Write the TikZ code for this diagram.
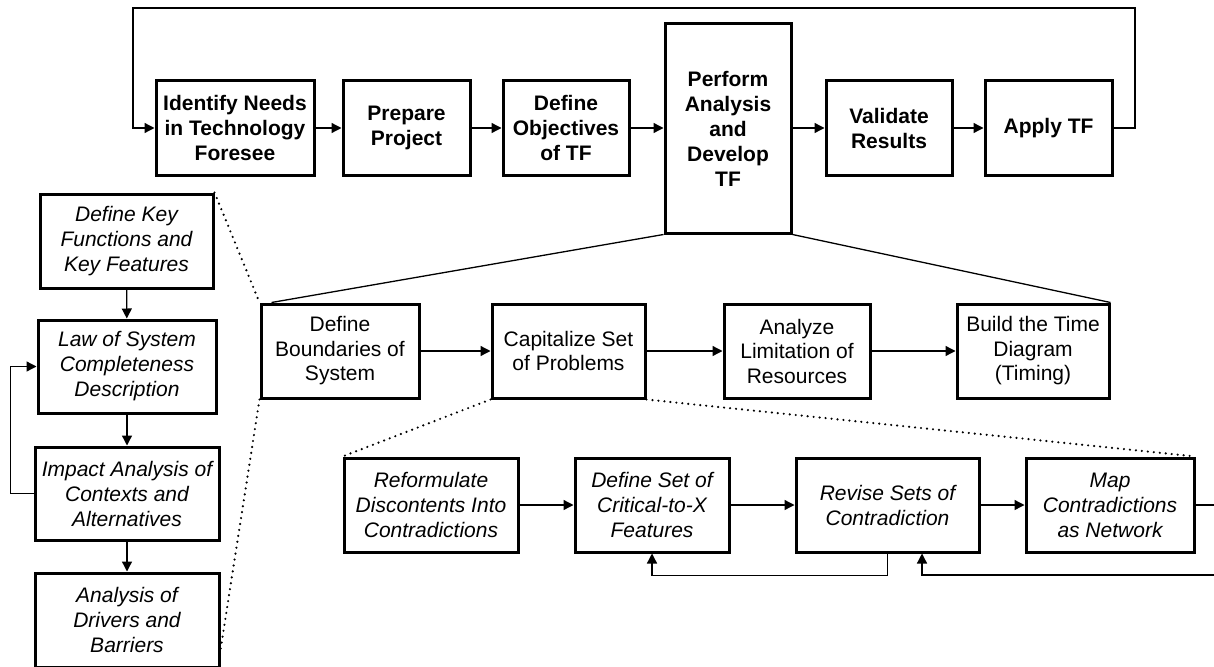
\documentclass[tikz,border=0pt]{standalone}
\usepackage{fontspec}
\setmainfont{Liberation Sans}
\usetikzlibrary{arrows.meta}
\begin{document}
\begin{tikzpicture}[x=1pt,y=-1pt,
  box/.style={draw, line width=3pt, align=center, inner sep=0pt, minimum height=94pt},
  bbox/.style={box, font=\fontsize{21}{25}\selectfont\bfseries},
  rbox/.style={box, font=\fontsize{21}{24.5}\selectfont},
  ibox/.style={box, font=\fontsize{21}{25}\selectfont\itshape},
  conn/.style={line width=1.3pt, -{Triangle[length=10pt,width=10pt]}},
  plain/.style={line width=1.3pt},
  dots/.style={line width=2.4pt, dash pattern=on 0pt off 6pt, line cap=round}]
\useasboundingbox (0,0) rectangle (1214,666);
% top row
\node[bbox, minimum width=158pt] (id) at (235,128) {Identify Needs\\in Technology\\Foresee};
\node[bbox, minimum width=127pt] (prep) at (406.5,128) {Prepare\\Project};
\node[bbox, minimum width=126pt] (obj) at (566,128) {Define\\Objectives\\of TF};
\node[bbox, minimum width=126pt, minimum height=209pt] (perf) at (728,128.5) {Perform\\Analysis\\and\\Develop\\TF};
\node[bbox, minimum width=126pt] (val) at (889,128) {Validate\\Results};
\node[bbox, minimum width=127pt] (app) at (1048.5,128) {Apply TF};
\draw[conn] (id) -- (prep);
\draw[conn] (prep) -- (obj);
\draw[conn] (obj) -- (perf.west |- obj.east);
\draw[conn] (perf.east |- val.west) -- (val);
\draw[conn] (val) -- (app);
\draw[conn] (app.east) -- (1135,128) -- (1135,8) -- (133,8) -- (133,128) -- (id.west);
% left column
\node[ibox, minimum width=173pt] (key) at (126.5,241) {Define Key\\Functions and\\Key Features};
\node[ibox, minimum width=178pt, minimum height=93pt] (law) at (127,366.5) {Law of System\\Completeness\\Description};
\node[ibox, minimum width=184pt, minimum height=93pt] (imp) at (127,493.5) {Impact Analysis of\\Contexts and\\Alternatives};
\node[ibox, minimum width=184pt] (drv) at (127,620) {Analysis of\\Drivers and\\Barriers};
\draw[conn] (key) -- (law);
\draw[conn] (law) -- (imp);
\draw[conn] (imp) -- (drv);
\draw[conn] (imp.west) -- ++(-23,0) |- (law.west);
% middle row
\node[rbox, minimum width=158pt] (bnd) at (340,351) {Define\\Boundaries of\\System};
\node[rbox, minimum width=153pt] (cap) at (568.5,351) {Capitalize Set\\of Problems};
\node[rbox, minimum width=146pt] (ana) at (797,351) {Analyze\\Limitation of\\Resources};
\node[rbox, minimum width=152pt] (bld) at (1033,351) {Build the Time\\Diagram\\(Timing)};
\draw[conn] (bnd) -- (cap);
\draw[conn] (cap) -- (ana);
\draw[conn] (ana) -- (bld);
\draw[plain] (perf.south west) -- ([xshift=12pt]bnd.north west);
\draw[plain] (perf.south east) -- (bld.north east);
% bottom row
\node[ibox, minimum width=174pt] (ref) at (431,505) {Reformulate\\Discontents Into\\Contradictions};
\node[ibox, minimum width=154pt] (dset) at (652,505) {Define Set of\\Critical-to-X\\Features};
\node[ibox, minimum width=183pt] (rev) at (887.5,505) {Revise Sets of\\Contradiction};
\node[ibox, minimum width=168pt] (map) at (1110,505) {Map\\Contradictions\\as Network};
\draw[conn] (ref) -- (dset);
\draw[conn] (dset) -- (rev);
\draw[conn] (rev) -- (map);
\coordinate (mapout) at (1216,505);
\coordinate (fbin) at (1216,575);
\draw[plain] (map.east) -- (mapout);
\draw[conn] (rev.south) -- ++(0,22) -| (dset.south);
\draw[conn] (fbin) -| ([xshift=34.5pt]rev.south);
% dotted zoom lines
\draw[dots] (key.north east) -- (bnd.north west);
\draw[dots] (bnd.south west) -- ([yshift=-30pt]drv.east);
\draw[dots] (cap.south west) -- (ref.north west);
\draw[dots] (cap.south east) -- (map.north east);
\end{tikzpicture}
\end{document}
